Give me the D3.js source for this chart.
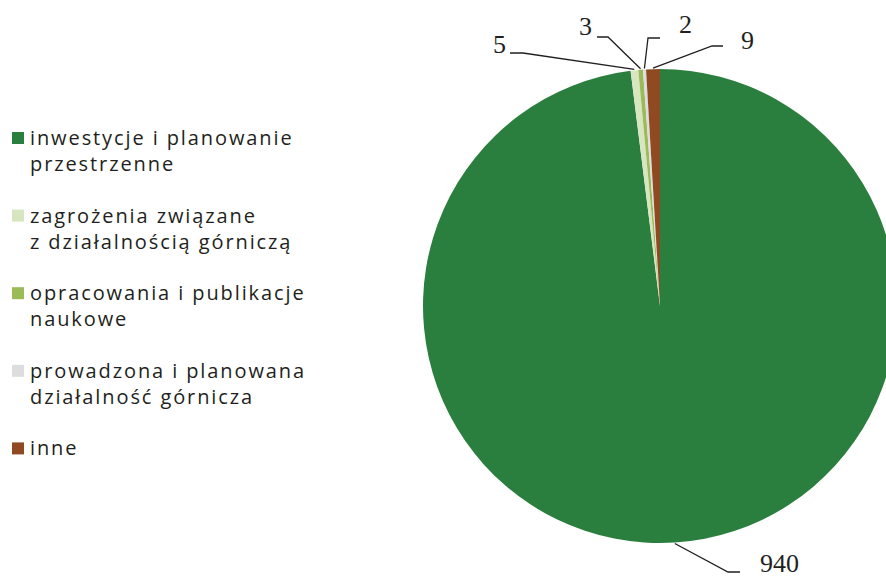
<!DOCTYPE html>
<html>
<head>
<meta charset="utf-8">
<script src="https://cdn.jsdelivr.net/npm/d3@7"></script>
<style>
  body { margin: 0; background: #fff; }
  .legend text { font-family: "Open Sans", sans-serif; font-size: 20px; fill: #231f20; letter-spacing: 1.9px; }
  .lbl { font-family: "Liberation Serif", serif; font-size: 26px; fill: #231f20; }
  .leader { fill: none; stroke: #231f20; stroke-width: 1.3; }
</style>
</head>
<body>
<svg id="chart" width="886" height="578"></svg>
<script>
const categories = [
  ["inwestycje i planowanie", "przestrzenne"],
  ["zagrożenia związane", "z działalnością górniczą"],
  ["opracowania i publikacje", "naukowe"],
  ["prowadzona i planowana", "działalność górnicza"],
  ["inne"]
];
const values = [940, 5, 3, 2, 9];
const colors = ["#2b7f3e", "#d7e6c0", "#9bbb59", "#dcdddf", "#8f4a22"];

// label placement per slice: text position and the elbow of the leader line
const labelPos = [
  { tx: 760, ty: 572, elbow: [[740, 572], [728, 572]] },
  { tx: 493, ty: 53, elbow: [[510, 53], [523, 53]] },
  { tx: 579, ty: 35, elbow: [[597, 37], [608, 37]] },
  { tx: 679, ty: 33, elbow: [[660, 38], [648, 38]] },
  { tx: 741, ty: 49, elbow: [[723, 46], [712, 46]] }
];

const svg = d3.select("#chart");
const cx = 660, cy = 306, radius = 237;

const pie = d3.pie().sort(null).value((d) => d);
const arcs = pie(values);
const arc = d3.arc().innerRadius(0).outerRadius(radius);

const g = svg.append("g").attr("transform", "translate(" + cx + "," + cy + ")");

g.selectAll("path.slice")
  .data(arcs)
  .join("path")
  .attr("class", "slice")
  .attr("d", arc)
  .attr("fill", (d, i) => colors[i]);

// leader lines: from the elbow to the arc edge
const edge = d3.arc().innerRadius(radius + 1).outerRadius(radius + 1);
svg.selectAll("path.leader")
  .data(arcs)
  .join("path")
  .attr("class", "leader")
  .attr("d", function (d, i) {
    const p = edge.centroid(d);
    return d3.line()([labelPos[i].elbow[0], labelPos[i].elbow[1], [cx + p[0], cy + p[1]]]);
  });

svg.selectAll("text.lbl")
  .data(arcs)
  .join("text")
  .attr("class", "lbl")
  .attr("x", (d, i) => labelPos[i].tx)
  .attr("y", (d, i) => labelPos[i].ty)
  .text((d) => d.data);

// legend
const legend = svg.append("g").attr("class", "legend");
const item = legend.selectAll("g")
  .data(categories)
  .join("g")
  .attr("transform", (d, i) => "translate(12," + (132 + i * 77.6) + ")");

item.append("rect")
  .attr("width", 12)
  .attr("height", 12)
  .attr("fill", (d, i) => colors[i]);

item.append("text")
  .selectAll("tspan")
  .data((d) => d)
  .join("tspan")
  .attr("x", 18)
  .attr("y", (d, j) => 13 + j * 26)
  .text((d) => d);
</script>
</body>
</html>
